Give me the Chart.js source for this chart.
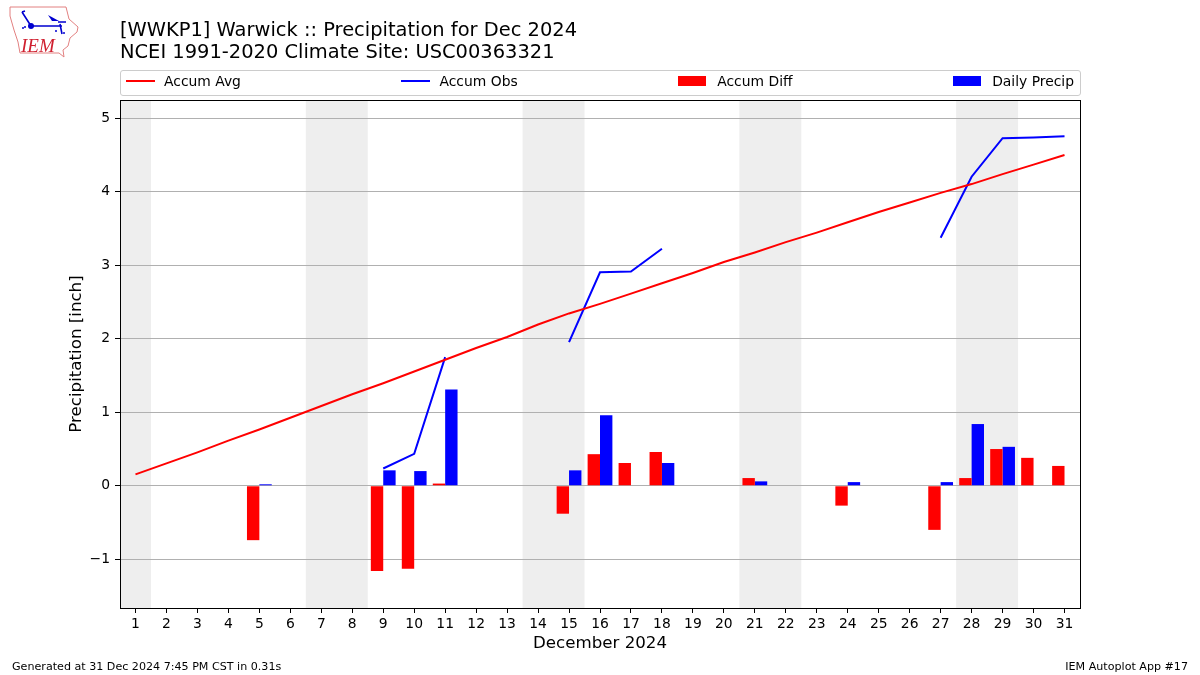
<!DOCTYPE html>
<html>
<head>
<meta charset="utf-8">
<title>Precipitation for Dec 2024</title>
<script src="https://cdn.jsdelivr.net/npm/chart.js@4"></script>
<style>
html, body { margin: 0; padding: 0; background: #fff; }
body { position: relative; width: 1200px; height: 675px; overflow: hidden; font-family: "DejaVu Sans", sans-serif; color: #000; }
canvas { position: absolute; left: 0; top: 0; }
#logo { position: absolute; left: 0; top: 0; }
#title { position: absolute; left: 120px; top: 19px; font-size: 19.44px; line-height: 22px; white-space: nowrap; }
#legend { position: absolute; left: 120px; top: 70px; width: 961px; height: 26px; box-sizing: border-box; border: 1px solid #ccc; border-radius: 3px; padding: 0 6px 4px 5px; display: flex; justify-content: space-between; align-items: center; font-size: 13.89px; }
.item { display: flex; align-items: center; white-space: nowrap; }
.swatch { width: 28px; margin-right: 11px; }
.swatch.line { width: 29px; margin-right: 9px; }
.foot { position: absolute; top: 660px; font-size: 11.11px; white-space: nowrap; }
</style>
</head>
<body>
<canvas id="precipChart" width="1200" height="675"></canvas>
<svg id="logo" width="90" height="65" viewBox="0 0 90 65">
  <path d="M10,7 L66,7 L69,19 L78,27 L77,32 L70,38 L68,46 L63,50 L64,57 L59,53 L20,53 L18,42 L14,30 L10,16 Z" fill="none" stroke="#e28080" stroke-width="1"/>
  <path d="M31,26 L62,26 M58,22 L66,22 M60,24 L62,34 M22,12 L31,26 M22,12 L25,11" fill="none" stroke="#0000d0" stroke-width="1.6"/>
  <path d="M48,15 L59,21 L52,21 Z" fill="#0000d0"/>
  <circle cx="31" cy="26" r="3" fill="#0000d0"/>
  <circle cx="25" cy="27" r="1" fill="#0000d0"/>
  <circle cx="23" cy="28" r="1" fill="#0000d0"/>
  <circle cx="56" cy="31" r="1" fill="#0000d0"/>
  <circle cx="64" cy="33" r="1" fill="#0000d0"/>
  <text x="21" y="52" font-family="Liberation Serif" font-style="italic" font-size="19" fill="#d02030">IEM</text>
</svg>
<div id="title">[WWKP1] Warwick :: Precipitation for Dec 2024<br>NCEI 1991-2020 Climate Site: USC00363321</div>
<div id="legend"></div>
<div class="foot" style="left:12px">Generated at 31 Dec 2024 7:45 PM CST in 0.31s</div>
<div class="foot" style="right:12px">IEM Autoplot App #17</div>
<script>
const days = ['1','2','3','4','5','6','7','8','9','10','11','12','13','14','15','16','17','18','19','20','21','22','23','24','25','26','27','28','29','30','31'];

const accumAvg = [0.155,0.305,0.455,0.615,0.765,0.925,1.085,1.245,1.395,1.555,1.715,1.875,2.025,2.195,2.345,2.475,2.615,2.755,2.895,3.045,3.175,3.315,3.445,3.585,3.725,3.855,3.985,4.105,4.24,4.37,4.50];
const accumObs = [null,null,null,null,null,null,null,null,0.235,0.435,1.75,null,null,null,1.955,2.905,2.915,3.225,null,null,null,null,null,null,null,null,3.375,4.205,4.73,4.74,4.755];
const accumDiff = [null,null,null,null,-0.74,null,null,null,-1.16,-1.13,0.03,null,null,null,-0.38,0.43,0.31,0.46,null,null,0.105,null,null,-0.27,null,null,-0.60,0.105,0.50,0.38,0.27];
const dailyPrecip = [null,null,null,null,0.02,null,null,null,0.21,0.20,1.31,null,null,null,0.21,0.96,null,0.31,null,null,0.06,null,null,0.05,null,null,0.05,0.84,0.53,null,null];

// weekend spans, in day numbers
const weekends = [[0.5,1.5],[6.5,8.5],[13.5,15.5],[20.5,22.5],[27.5,29.5]];

const weekendShade = {
    id: 'weekendShade',
    beforeDraw(chart) {
        const { ctx, chartArea, scales } = chart;
        ctx.save();
        ctx.fillStyle = '#eeeeee';
        weekends.forEach(([a, b]) => {
            const x0 = scales.x.getPixelForValue(a - 1);
            const x1 = scales.x.getPixelForValue(b - 1);
            ctx.fillRect(x0, chartArea.top, x1 - x0, chartArea.bottom - chartArea.top);
        });
        ctx.restore();
    }
};

const frameBox = {
    id: 'frameBox',
    afterDraw(chart) {
        const { ctx, chartArea } = chart;
        ctx.save();
        ctx.strokeStyle = '#000';
        ctx.lineWidth = 1;
        ctx.strokeRect(Math.round(chartArea.left) + 0.5, Math.round(chartArea.top) + 0.5,
            Math.round(chartArea.right - chartArea.left), Math.round(chartArea.bottom - chartArea.top));
        ctx.restore();
    }
};

const tickFont = { family: 'DejaVu Sans', size: 13.89 };
const labelFont = { family: 'DejaVu Sans', size: 16.67 };

const chart = new Chart(document.getElementById('precipChart').getContext('2d'), {
    type: 'bar',
    data: {
        labels: days,
        datasets: [
            { type: 'line', label: 'Accum Avg', data: accumAvg, borderColor: '#ff0000', borderWidth: 2, pointRadius: 0, tension: 0, order: 0 },
            { type: 'line', label: 'Accum Obs', data: accumObs, borderColor: '#0000ff', borderWidth: 2, pointRadius: 0, tension: 0, spanGaps: false, order: 0 },
            { label: 'Accum Diff', data: accumDiff, backgroundColor: '#ff0000', categoryPercentage: 0.8, barPercentage: 1, order: 1 },
            { label: 'Daily Precip', data: dailyPrecip, backgroundColor: '#0000ff', categoryPercentage: 0.8, barPercentage: 1, order: 1 }
        ]
    },
    options: {
        responsive: false,
        animation: false,
        layout: { padding: { top: 100, right: 120, left: 0, bottom: 0 } },
        plugins: { legend: { display: false }, tooltip: { enabled: false } },
        scales: {
            x: {
                offset: true,
                afterFit(scale) { scale.height = 67; },
                grid: { offset: false, drawOnChartArea: false, tickColor: '#000', tickLength: 5 },
                border: { display: false },
                ticks: { autoSkip: false, maxRotation: 0, color: '#000', font: tickFont, padding: 3 },
                title: { display: true, text: 'December 2024', color: '#000', font: labelFont, padding: { top: 0, bottom: 21 } }
            },
            y: {
                min: -1.663,
                max: 5.249,
                afterFit(scale) { scale.width = 120; },
                grid: { color: '#b0b0b0', tickColor: '#000', tickLength: 5 },
                border: { display: false },
                ticks: {
                    stepSize: 1,
                    includeBounds: false,
                    color: '#000',
                    font: tickFont,
                    padding: 5,
                    callback: v => String(v).replace('-', '\u2212')
                },
                title: { display: true, text: 'Precipitation [inch]', color: '#000', font: labelFont, padding: { top: 67, bottom: 0 } }
            }
        }
    },
    plugins: [weekendShade, frameBox]
});

// legend is laid out across the full axes width, like mode="expand"
const legendBox = document.getElementById('legend');
chart.data.datasets.forEach(ds => {
    const item = document.createElement('div');
    item.className = 'item';
    const swatch = document.createElement('div');
    if (ds.type === 'line') {
        swatch.className = 'swatch line';
        swatch.style.height = '2px';
        swatch.style.background = ds.borderColor;
    } else {
        swatch.className = 'swatch';
        swatch.style.height = '10px';
        swatch.style.background = ds.backgroundColor;
    }
    item.appendChild(swatch);
    item.appendChild(document.createTextNode(ds.label));
    legendBox.appendChild(item);
});
</script>
</body>
</html>
